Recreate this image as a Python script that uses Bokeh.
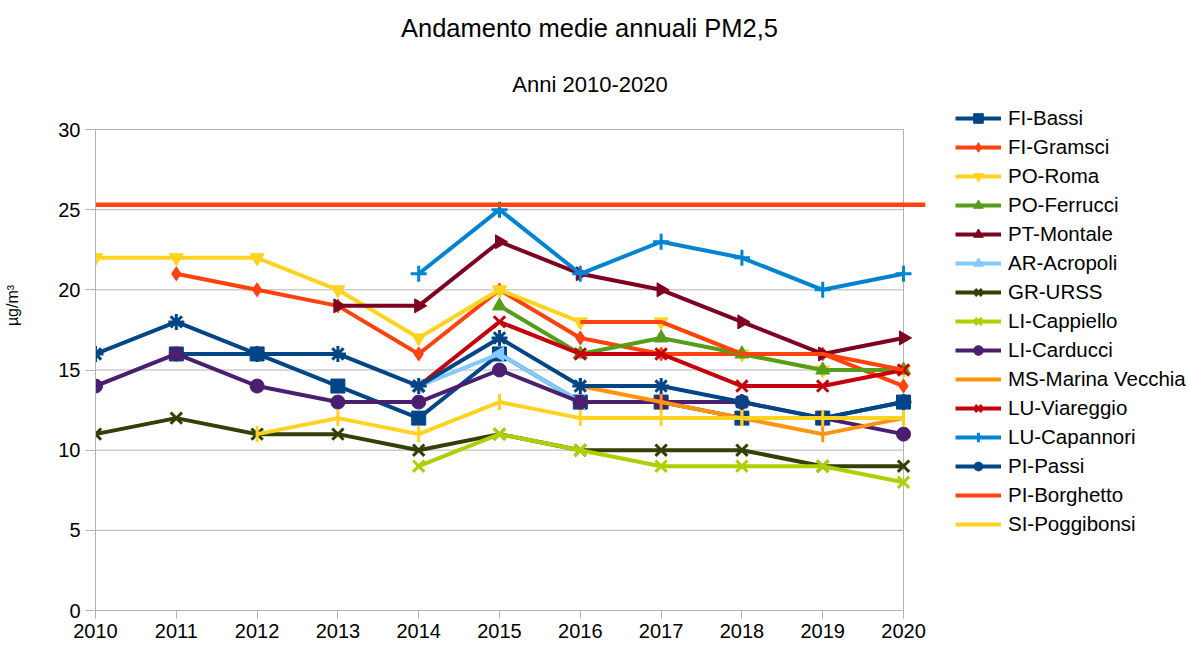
import math
from bokeh.plotting import figure
from bokeh.models import Range1d, Legend, LegendItem, Label
from bokeh.embed import file_html
from bokeh.resources import INLINE

nan = float("nan")

YEARS = list(range(2010, 2021))
Y_TICKS = [0, 5, 10, 15, 20, 25, 30]

FI_BASSI = [nan, 16, 16, 14, 12, 16, 13, 13, 12, 12, 13]
FI_GRAMSCI = [nan, 21, 20, 19, 16, 20, 17, 16, 16, 16, 14]
PO_ROMA = [22, 22, 22, 20, 17, 20, 18, 18, 16, 15, 15]
PO_FERRUCCI = [nan, nan, nan, nan, nan, 19, 16, 17, 16, 15, 15]
PT_MONTALE = [nan, nan, nan, 19, 19, 23, 21, 20, 18, 16, 17]
AR_ACROPOLI = [nan, nan, nan, nan, 14, 16, 13, nan, nan, nan, nan]
GR_URSS = [11, 12, 11, 11, 10, 11, 10, 10, 10, 9, 9]
LI_CAPPIELLO = [nan, nan, nan, nan, 9, 11, 10, 9, 9, 9, 8]
LI_CARDUCCI = [14, 16, 14, 13, 13, 15, 13, 13, 13, 12, 11]
MS_MARINA_VECCHIA = [nan, nan, nan, nan, nan, nan, 14, 13, 12, 11, 12]
LU_VIAREGGIO = [nan, nan, nan, nan, 14, 18, 16, 16, 14, 14, 15]
LU_CAPANNORI = [nan, nan, nan, nan, 21, 25, 21, 23, 22, 20, 21]
PI_PASSI = [16, 18, 16, 16, 14, 17, 14, 14, 13, 12, 13]
PI_BORGHETTO = [nan, nan, nan, nan, nan, nan, 18, 18, 16, 16, 15]
SI_POGGIBONSI = [nan, nan, 11, 12, 11, 13, 12, 12, 12, 12, 12]

# hand-drawn limit line (value and horizontal extent)
LIMIT = 25.3
LIMIT_X = [2009.84, 2020.27]

SERIES = [
    ("FI-Bassi", FI_BASSI, "#004586", "square", 0.0),
    ("FI-Gramsci", FI_GRAMSCI, "#ff420e", "diamond", 0.0),
    ("PO-Roma", PO_ROMA, "#ffd320", "inverted_triangle", 0.0),
    ("PO-Ferrucci", PO_FERRUCCI, "#579d1c", "triangle", 0.0),
    ("PT-Montale", PT_MONTALE, "#7e0021", "triangle", -math.pi / 2),
    ("AR-Acropoli", AR_ACROPOLI, "#83caff", "triangle", math.pi / 2),
    ("GR-URSS", GR_URSS, "#314004", "x", 0.0),
    ("LI-Cappiello", LI_CAPPIELLO, "#aecf00", "x", 0.0),
    ("LI-Carducci", LI_CARDUCCI, "#4b1f6f", "circle", 0.0),
    ("MS-Marina Vecchia", MS_MARINA_VECCHIA, "#ff950e", "dash", math.pi / 2),
    ("LU-Viareggio", LU_VIAREGGIO, "#c5000b", "x", 0.0),
    ("LU-Capannori", LU_CAPANNORI, "#0084d1", "cross", 0.0),
    ("PI-Passi", PI_PASSI, "#004586", "asterisk", 0.0),
    ("PI-Borghetto", PI_BORGHETTO, "#ff420e", None, 0.0),
    ("SI-Poggibonsi", SI_POGGIBONSI, "#ffd320", "dash", math.pi / 2),
]

FONT = "Liberation Sans"
GRID = "#b3b3b3"

# frame covers everything right of the y axis and above the x axis;
# the plot area itself is 2010..2020 x 0..30
p = figure(width=1188, height=646, output_backend="svg", toolbar_location=None,
           x_range=Range1d(2010, 2023.527), y_range=Range1d(0, 38.046),
           min_border_left=95, min_border_right=0, min_border_top=0,
           min_border_bottom=36, title=None)
p.outline_line_color = None
p.grid.visible = False
p.background_fill_color = "white"
p.border_fill_color = "white"

# axes
xa = p.xaxis[0]
xa.ticker = YEARS
xa.bounds = (YEARS[0], YEARS[-1])
xa.major_tick_out = 8
xa.major_tick_in = 0
xa.minor_tick_line_color = None
xa.axis_line_color = GRID
xa.major_tick_line_color = GRID
xa.major_label_text_font = FONT
xa.major_label_text_font_size = "20px"
xa.major_label_text_color = "#000000"
xa.major_label_standoff = 5

ya = p.yaxis[0]
ya.ticker = Y_TICKS
ya.bounds = (Y_TICKS[0], Y_TICKS[-1])
ya.major_tick_out = 10
ya.major_tick_in = 0
ya.minor_tick_line_color = None
ya.axis_line_color = GRID
ya.major_tick_line_color = GRID
ya.major_label_text_font = FONT
ya.major_label_text_font_size = "20px"
ya.major_label_text_color = "#000000"
ya.major_label_standoff = 5
ya.axis_label = "µg/m³"
ya.axis_label_text_font = FONT
ya.axis_label_text_font_size = "16px"
ya.axis_label_text_font_style = "normal"
ya.axis_label_text_color = "#000000"
ya.axis_label_standoff = 34

# grid lines and right border of the plot area
p.segment(x0=[YEARS[0]] * len(Y_TICKS), x1=[YEARS[-1]] * len(Y_TICKS),
          y0=Y_TICKS, y1=Y_TICKS, line_color=GRID, line_width=1)
p.segment(x0=[YEARS[-1]], x1=[YEARS[-1]], y0=[Y_TICKS[0]], y1=[Y_TICKS[-1]],
          line_color=GRID, line_width=1)

items = []
for name, vals, color, marker, ang in SERIES:
    rs = []
    rs.append(p.line(YEARS, vals, line_color=color, line_width=4))
    if marker is not None:
        if marker in ("x", "cross", "asterisk", "dash"):
            rs.append(p.scatter(YEARS, vals, marker=marker, size=16, angle=ang,
                                line_color=color, line_width=3, fill_color=color))
        else:
            rs.append(p.scatter(YEARS, vals, marker=marker, size=14, angle=ang,
                                line_color=color, fill_color=color, line_width=1))
    items.append(LegendItem(label=name, renderers=rs))

# limit line
p.line(LIMIT_X, [LIMIT] * len(LIMIT_X), line_color="#ff420e", line_width=4.5)

legend = Legend(items=items, location=(860, 74), padding=0, margin=0, spacing=5,
                glyph_height=24, glyph_width=46, label_height=24, label_standoff=7,
                label_text_font=FONT, label_text_font_size="20.5px",
                label_text_color="#000000",
                border_line_alpha=0, background_fill_alpha=0)
p.add_layout(legend, "center")

p.add_layout(Label(x=494, y=583, x_units="screen", y_units="screen",
                   text="Andamento medie annuali PM2,5", text_align="center",
                   text_baseline="middle", text_font=FONT, text_font_size="25.5px",
                   text_color="#000000"))
p.add_layout(Label(x=494.5, y=526, x_units="screen", y_units="screen",
                   text="Anni 2010-2020", text_align="center",
                   text_baseline="middle", text_font=FONT, text_font_size="22px",
                   text_color="#000000"))

open("out.html", "w").write(file_html(p, INLINE))
